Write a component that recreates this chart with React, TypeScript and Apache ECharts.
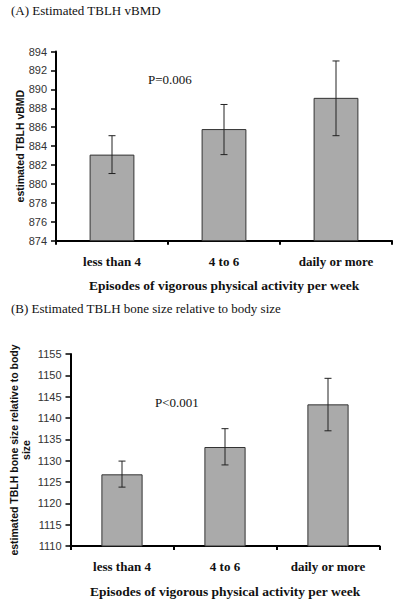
import React, { useEffect, useRef } from "react";
import * as echarts from "echarts";

const categories = ["less than 4", "4 to 6", "daily or more"];

const vbmdMean = [883.1, 885.8, 889.1];
const vbmdLow = [881.1, 883.1, 885.1];
const vbmdHigh = [885.1, 888.4, 893.0];
const vbmdTicks = { min: 874, max: 894, interval: 2 };

const sizeMean = [1126.8, 1133.2, 1143.2];
const sizeLow = [1123.8, 1129.0, 1137.0];
const sizeHigh = [1129.9, 1137.5, 1149.3];
const sizeTicks = { min: 1110, max: 1155, interval: 5 };

const titleA = "(A) Estimated TBLH vBMD";
const titleB = "(B) Estimated TBLH bone size relative to body size";
const pA = "P=0.006";
const pB = "P<0.001";
const xName = "Episodes of vigorous physical activity per week";
const yNameA = "estimated TBLH vBMD";
const yNameB = "estimated TBLH bone size relative to body\nsize";

const SERIF = "'Liberation Serif', 'Times New Roman', serif";
const SANS = "'Liberation Sans', Arial, sans-serif";

function errorRender(params: any, api: any) {
  const x = api.value(0);
  const lo = api.coord([x, api.value(1)]);
  const hi = api.coord([x, api.value(2)]);
  const half = 3.5;
  const style = { stroke: "#222", lineWidth: 1 };
  return {
    type: "group",
    children: [
      { type: "line", shape: { x1: lo[0], y1: lo[1], x2: hi[0], y2: hi[1] }, style },
      { type: "line", shape: { x1: hi[0] - half, y1: hi[1], x2: hi[0] + half, y2: hi[1] }, style },
      { type: "line", shape: { x1: lo[0] - half, y1: lo[1], x2: lo[0] + half, y2: lo[1] }, style },
    ],
  };
}

export default function App() {
  const ref = useRef<HTMLDivElement>(null);
  useEffect(() => {
    if (!ref.current) return;
    const chart = echarts.init(ref.current, null, { renderer: "svg" });
    const xAxisBase = (gridIndex: number) => ({
      type: "category",
      gridIndex,
      data: categories,
      boundaryGap: true,
      axisLine: { lineStyle: { color: "#000", width: 2 } },
      axisTick: { show: true, alignWithLabel: false, length: 4, lineStyle: { color: "#000", width: 2 } },
      axisLabel: { fontFamily: SERIF, fontWeight: "bold", fontSize: 13, color: "#111", margin: 14 },
      name: xName,
      nameLocation: "middle",
      nameGap: 38,
      nameMoveOverlap: false,
      nameTextStyle: { fontFamily: SERIF, fontWeight: "bold", fontSize: 13.5, color: "#111" },
      splitLine: { show: false },
    });
    const yAxisBase = (gridIndex: number, t: any, name: string, gap: number) => ({
      type: "value",
      gridIndex,
      min: t.min,
      max: t.max,
      interval: t.interval,
      axisLine: { show: true, lineStyle: { color: "#000", width: 2 } },
      axisTick: { show: true, length: 5, lineStyle: { color: "#000", width: 1.5 } },
      axisLabel: { fontFamily: SANS, fontSize: 11, color: "#333", margin: 9, formatter: (v: number) => String(v) },
      splitLine: { show: false },
      name,
      nameLocation: "middle",
      nameGap: gap,
      nameMoveOverlap: false,
      nameTextStyle: { fontFamily: SANS, fontWeight: "bold", fontSize: 10.5, color: "#111", lineHeight: 12 },
    });
    const toErr = (lo: number[], hi: number[]) => lo.map((l, i) => [i, l, hi[i]]);
    const barStyle = { color: "#aaaaaa", borderColor: "#333", borderWidth: 1 };
    chart.setOption({
      animation: false,
      backgroundColor: "#fff",
      grid: [
        { left: 56, top: 51.5, right: 8, height: 189.2 },
        { left: 62.5, top: 354, right: 20.5, height: 192 },
      ],
      xAxis: [xAxisBase(0), xAxisBase(1)],
      yAxis: [
        yAxisBase(0, vbmdTicks, yNameA, 30),
        yAxisBase(1, sizeTicks, yNameB, 38.5),
      ],
      series: [
        { type: "bar", xAxisIndex: 0, yAxisIndex: 0, data: vbmdMean, barWidth: "40%", itemStyle: barStyle },
        { type: "custom", xAxisIndex: 0, yAxisIndex: 0, data: toErr(vbmdLow, vbmdHigh), renderItem: errorRender, z: 5 },
        { type: "bar", xAxisIndex: 1, yAxisIndex: 1, data: sizeMean, barWidth: "40%", itemStyle: barStyle },
        { type: "custom", xAxisIndex: 1, yAxisIndex: 1, data: toErr(sizeLow, sizeHigh), renderItem: errorRender, z: 5 },
      ],
      graphic: [
        { type: "text", left: 11, top: 4, style: { text: titleA, fontFamily: SERIF, fontSize: 13, fill: "#111" } },
        { type: "text", left: 11, top: 302, style: { text: titleB, fontFamily: SERIF, fontSize: 13, fill: "#111" } },
        { type: "text", left: 148, top: 73, style: { text: pA, fontFamily: SERIF, fontSize: 13, fill: "#111" } },
        { type: "text", left: 155, top: 396, style: { text: pB, fontFamily: SERIF, fontSize: 13, fill: "#111" } },
      ],
    });
    return () => chart.dispose();
  }, []);
  return (
    <div
      ref={ref}
      style={{ position: "fixed", left: 0, top: 0, width: 400, height: 603, background: "#fff" }}
    />
  );
}
